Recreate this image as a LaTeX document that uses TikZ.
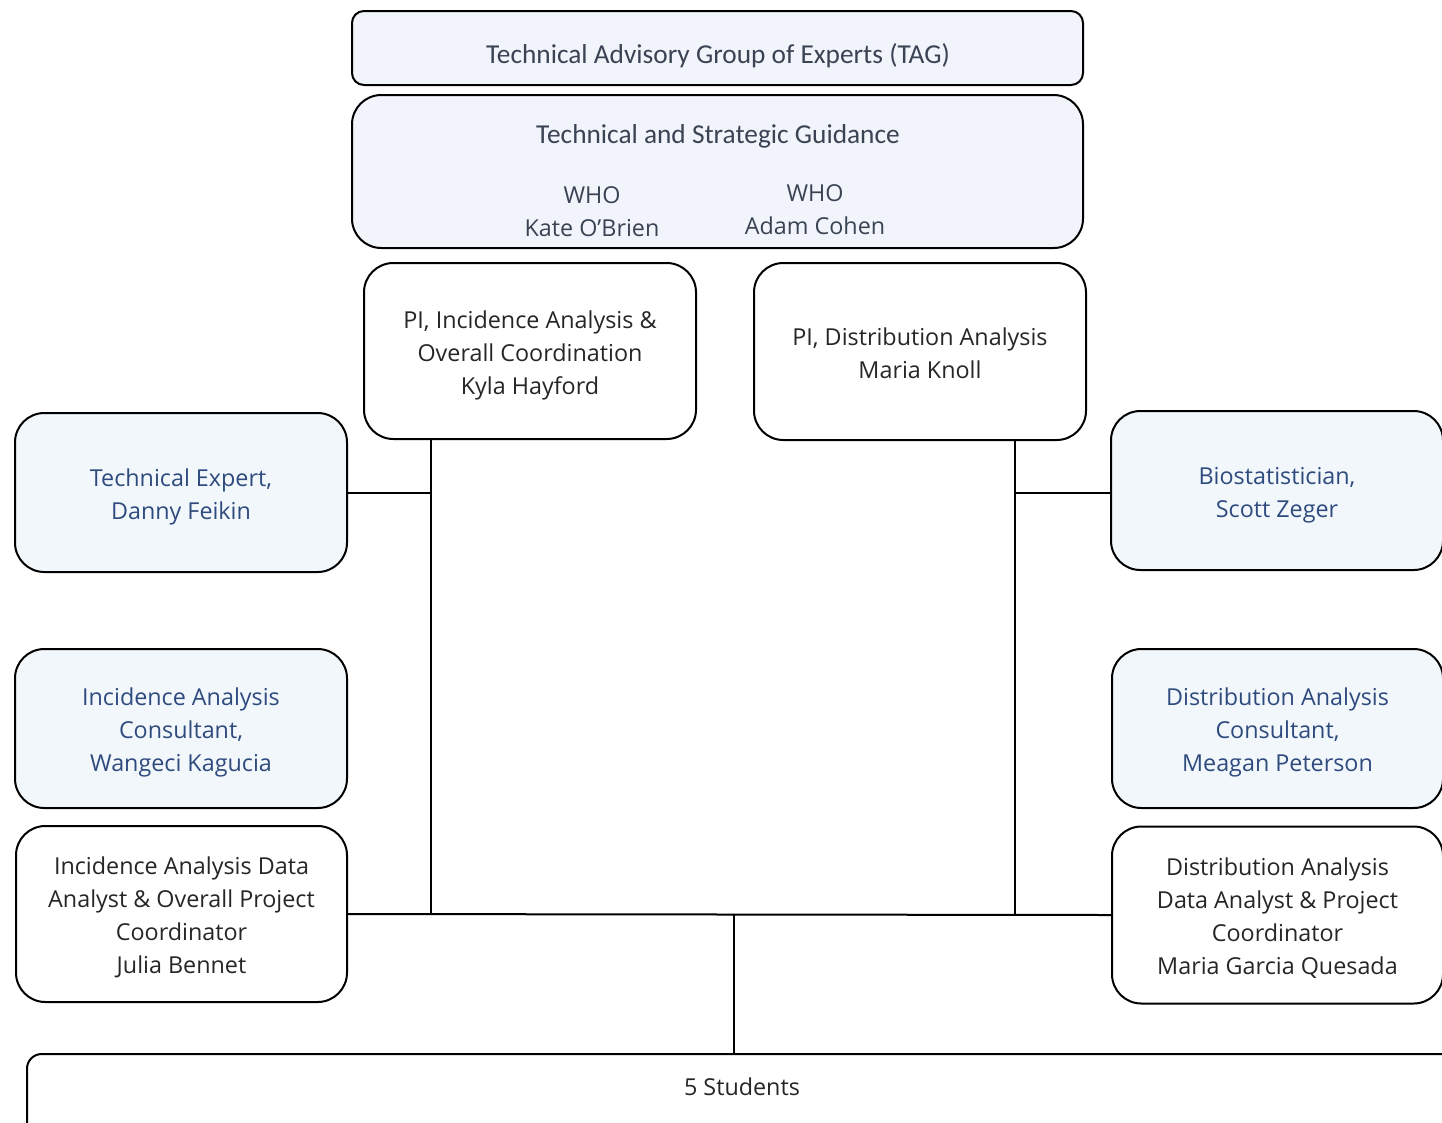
\documentclass[tikz,border=0pt]{standalone}
\usepackage{fontspec}
\setmainfont{Open Sans}
\newfontfamily\calfont{Carlito}
\definecolor{tagfill}{HTML}{F1F4FA}
\definecolor{bluefill}{HTML}{F2F7FC}
\definecolor{slatetext}{HTML}{3A4353}
\definecolor{bluetext}{HTML}{2F4B7E}
\newcommand\boxtopstrut{\rule{0pt}{19.5pt}}
\tikzset{
  px/.style={x=0.75pt,y=-0.75pt},
  orgbox/.style={draw=black, line width=1.5pt, rounded corners=22pt, align=center, inner sep=0pt,
     font=\fontsize{17.5}{24.75}\selectfont, text=black!85,
     execute at end node={\rule[-4.5pt]{0pt}{4.5pt}}},
  whitebox/.style={orgbox, fill=white},
  bluebox/.style={orgbox, fill=bluefill, text=bluetext},
  tagbox/.style={draw=black, line width=1.5pt, fill=tagfill, rounded corners=9pt, inner sep=0pt},
  guidebox/.style={draw=black, line width=1.5pt, fill=tagfill, rounded corners=22pt, inner sep=0pt},
  calabel/.style={text=slatetext, font=\calfont\fontsize{20.5}{24}\selectfont, inner sep=0pt},
  wholabel/.style={text=slatetext, align=center, inner sep=0pt, font=\fontsize{17.5}{24.75}\selectfont},
  conn/.style={draw=black, line width=1.5pt}
}
\begin{document}
\begin{tikzpicture}[px]
\useasboundingbox (0,0) rectangle (1442,1122);
\clip (0,0) rectangle (1442,1122);
\fill[white] (0,0) rectangle (1442,1122);
% top boxes
\node[tagbox, minimum width=731*0.75pt, minimum height=74*0.75pt] (tag) at (717.5,48) {};
\node[calabel] (tagtitle) at (718,56) {Technical Advisory Group of Experts (TAG)};
\node[guidebox, minimum width=731*0.75pt, minimum height=153*0.75pt] (guide) at (717.5,171.5) {};
\node[calabel] (guidetitle) at (718,136) {Technical and Strategic Guidance};
\node[wholabel] (who1) at (592,212) {WHO\\Kate O’Brien};
\node[wholabel] (who2) at (815,210) {WHO\\Adam Cohen};
% PI boxes
\node[whitebox, minimum width=332*0.75pt, minimum height=176*0.75pt] (pii) at (530,351) {\boxtopstrut PI, Incidence Analysis \&\\Overall Coordination\\Kyla Hayford};
\node[whitebox, minimum width=332*0.75pt, minimum height=177*0.75pt] (pid) at (920,351.5) {\boxtopstrut PI, Distribution Analysis\\Maria Knoll};
% left column
\node[bluebox, minimum width=332*0.75pt, minimum height=159*0.75pt] (te) at (181,492.5) {\boxtopstrut Technical Expert,\\Danny Feikin};
\node[bluebox, minimum width=332*0.75pt, minimum height=159*0.75pt] (iac) at (181,728.5) {\boxtopstrut Incidence Analysis\\Consultant,\\Wangeci Kagucia};
\node[whitebox, minimum width=331*0.75pt, minimum height=176*0.75pt] (ida) at (181.5,914) {\boxtopstrut Incidence Analysis Data\\Analyst \& Overall Project\\Coordinator\\Julia Bennet};
% right column
\node[bluebox, minimum width=332*0.75pt, minimum height=159*0.75pt] (bio) at (1277,490.5) {\boxtopstrut Biostatistician,\\Scott Zeger};
\node[bluebox, minimum width=331*0.75pt, minimum height=159*0.75pt] (dac) at (1277.5,728.5) {\boxtopstrut Distribution Analysis\\Consultant,\\Meagan Peterson};
\node[whitebox, minimum width=331*0.75pt, minimum height=177*0.75pt] (dda) at (1277.5,915) {\boxtopstrut Distribution Analysis\\Data Analyst \& Project\\Coordinator\\Maria Garcia Quesada};
% students
\node[draw=black, line width=1.5pt, fill=white, rounded corners=11pt, inner sep=0pt, minimum width=1430*0.75pt, minimum height=100*0.75pt] (stud) at (742,1104) {};
\node[wholabel, text=black!85] (studlabel) at (742,1087) {5 Students};
% connectors
\coordinate (j1) at (431,914.1);
\coordinate (j2) at (1015,914.9);
\coordinate (j3) at (734,914.6);
\draw[conn] (pii.south -| j1) -- (j1);
\draw[conn] (te.east) -- (te.east -| j1);
\draw[conn] (pid.south -| j2) -- (j2);
\draw[conn] (j2 |- te.east) -- (bio.west |- te.east);
\draw[conn] (ida.east) -- (dda.west);
\draw[conn] (j3) -- (j3 |- stud.north);
\end{tikzpicture}
\end{document}
